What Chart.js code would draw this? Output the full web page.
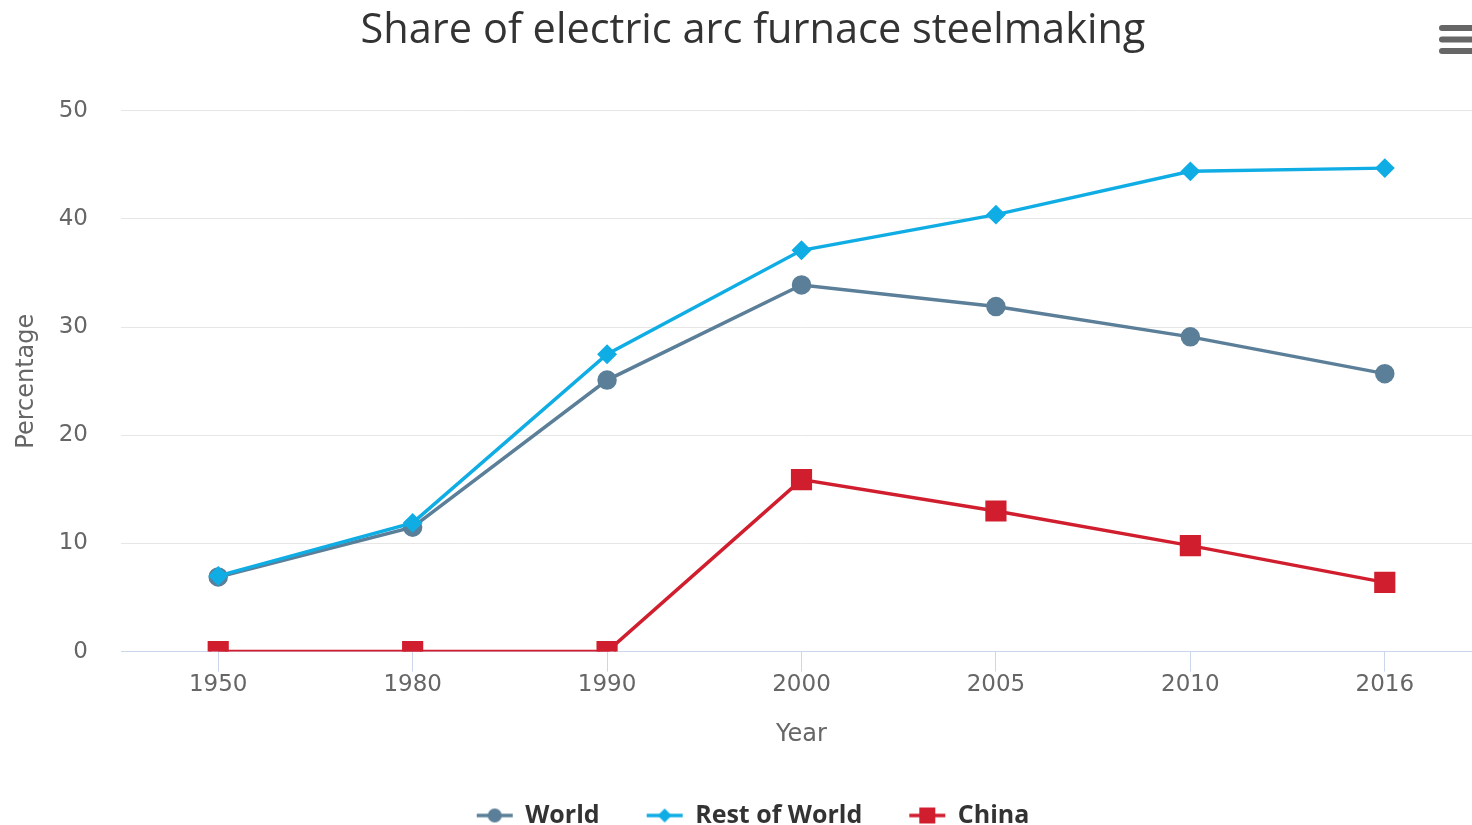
<!DOCTYPE html>
<html>
<head>
<meta charset="utf-8">
<script src="https://cdn.jsdelivr.net/npm/chart.js@4"></script>
<style>
  html, body { margin: 0; padding: 0; background: #fff; overflow: hidden; }
  #wrap { position: absolute; left: 0; top: 0; width: 1506px; height: 838px; }
</style>
</head>
<body>
<div id="wrap"><canvas id="chart"></canvas></div>
<script>
// data
const years = ['1950', '1980', '1990', '2000', '2005', '2010', '2016'];
const world = [6.9, 11.5, 25.1, 33.9, 31.9, 29.1, 25.7];
const restOfWorld = [7.0, 11.9, 27.5, 37.1, 40.4, 44.4, 44.7];
const china = [0, 0, 0, 15.9, 13.0, 9.8, 6.4];
const yTicks = [0, 10, 20, 30, 40, 50];

const seriesColors = { world: '#5b7f98', rest: '#10ade5', china: '#d11e2e' };

// legend symbol: short line with the marker in the middle (highcharts style)
function legendSymbol(color, style) {
  const c = document.createElement('canvas');
  c.width = 38; c.height = 20;
  const g = c.getContext('2d');
  g.strokeStyle = color; g.fillStyle = color; g.lineWidth = 3.5;
  g.beginPath(); g.moveTo(1, 10); g.lineTo(37, 10); g.stroke();
  g.beginPath();
  if (style === 'circle') g.arc(19, 10, 7, 0, Math.PI * 2);
  else if (style === 'diamond') { g.moveTo(19, 3); g.lineTo(26, 10); g.lineTo(19, 17); g.lineTo(12, 10); g.closePath(); }
  else g.rect(11, 2, 16, 16);
  g.fill();
  return c;
}

const symbols = [
  legendSymbol(seriesColors.world, 'circle'),
  legendSymbol(seriesColors.rest, 'diamond'),
  legendSymbol(seriesColors.china, 'rect')
];

const menuButton = {
  id: 'menuButton',
  afterDraw(chart) {
    const ctx = chart.ctx;
    ctx.save();
    ctx.strokeStyle = '#666';
    ctx.lineWidth = 6;
    ctx.lineCap = 'round';
    [28, 39.5, 51].forEach(y => {
      ctx.beginPath(); ctx.moveTo(1442, y); ctx.lineTo(1490, y); ctx.stroke();
    });
    ctx.restore();
  }
};

new Chart(document.getElementById('chart'), {
  type: 'line',
  data: {
    labels: years,
    datasets: [
      { label: 'World', data: world, borderColor: seriesColors.world, backgroundColor: seriesColors.world,
        borderWidth: 3.5, pointStyle: 'circle', pointRadius: 8, pointHoverRadius: 8, order: 3 },
      { label: 'Rest of World', data: restOfWorld, borderColor: seriesColors.rest, backgroundColor: seriesColors.rest,
        borderWidth: 3.5, pointStyle: 'rectRot', pointRadius: 7.5, pointHoverRadius: 7.5, order: 2 },
      { label: 'China', data: china, borderColor: seriesColors.china, backgroundColor: seriesColors.china,
        borderWidth: 3.5, pointStyle: 'rect', pointRadius: 12.5, pointHoverRadius: 12.5, order: 1 }
    ]
  },
  options: {
    responsive: true,
    maintainAspectRatio: false,
    animation: false,
    layout: { padding: { left: 0, right: 0, top: 0, bottom: 0 } },
    plugins: {
      title: {
        display: true,
        text: 'Share of electric arc furnace steelmaking',
        color: '#333',
        font: { family: 'Open Sans', size: 41.5, weight: 'normal' },
        padding: { top: 6, bottom: 55 }
      },
      legend: {
        position: 'bottom',
        labels: {
          usePointStyle: true,
          pointStyleWidth: 36,
          color: '#333',
          padding: 47,
          font: { family: 'Open Sans', size: 25, weight: 'bold' },
          generateLabels: chart => chart.data.datasets.map((ds, i) => ({
            text: ds.label,
            pointStyle: symbols[i],
            fillStyle: ds.backgroundColor,
            strokeStyle: ds.borderColor,
            lineWidth: 0,
            hidden: !chart.isDatasetVisible(i),
            datasetIndex: i,
            fontColor: '#333'
          }))
        }
      },
      tooltip: { enabled: false }
    },
    scales: {
      x: {
        type: 'category',
        offset: true,
        border: { display: true, color: '#ccd6eb', width: 1 },
        grid: { display: true, drawOnChartArea: false, drawTicks: true, tickLength: 20, tickColor: '#ccd6eb', offset: false },
        ticks: { color: '#666', padding: 0, font: { family: 'DejaVu Sans', size: 23 }, maxRotation: 0 },
        title: { display: true, text: 'Year', color: '#666', font: { family: 'DejaVu Sans', size: 24 }, padding: { top: 21, bottom: 7 } }
      },
      y: {
        min: 0,
        max: 50,
        afterBuildTicks: axis => { axis.ticks = yTicks.map(v => ({ value: v })); },
        afterFit: axis => { axis.width = 121; },
        border: { display: false },
        grid: { color: '#e6e6e6', lineWidth: 1, drawTicks: false },
        ticks: { color: '#666', padding: 33, font: { family: 'DejaVu Sans', size: 23 } },
        title: { display: true, text: 'Percentage', color: '#666', font: { family: 'DejaVu Sans', size: 24 }, padding: { top: 12, bottom: 0 } }
      },
      // empty spacer on the right, only there to reserve room
      yRight: {
        position: 'right',
        min: 0,
        max: 50,
        afterFit: axis => { axis.width = 24; },
        border: { display: false },
        grid: { display: false },
        ticks: { display: false }
      }
    }
  },
  plugins: [menuButton]
});
</script>
</body>
</html>
